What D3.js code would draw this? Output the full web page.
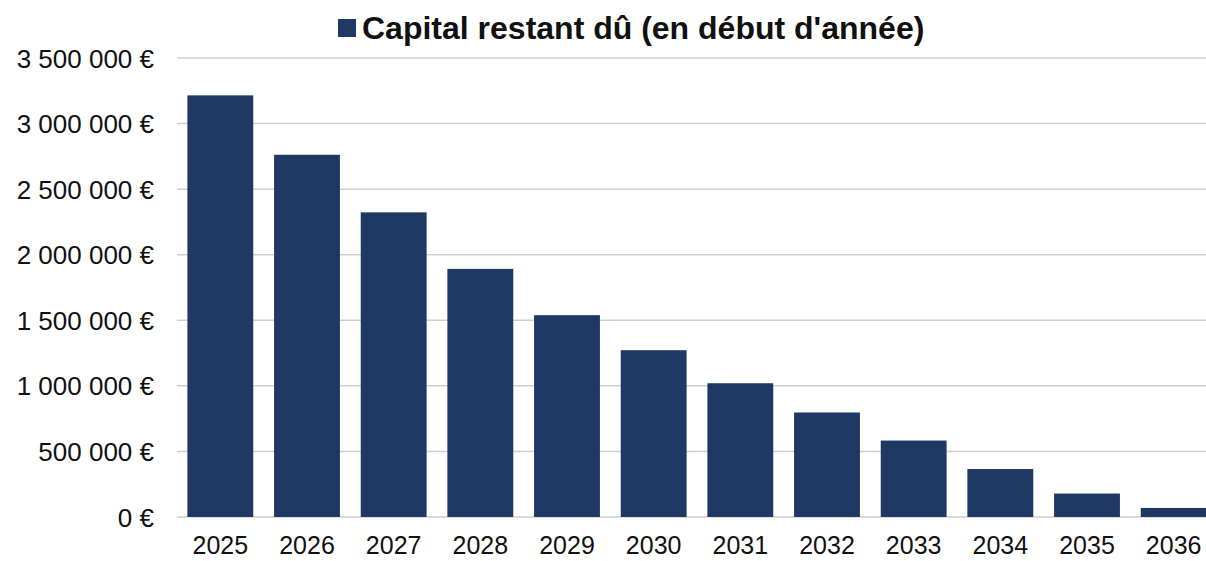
<!DOCTYPE html>
<html lang="fr">
<head>
<meta charset="UTF-8">
<title>Capital restant dû</title>
<style>
    body, html {
        margin: 0;
        padding: 0;
        width: 100%;
        height: 100%;
        overflow: hidden;
        background: #fff;
        font-family: 'Liberation Sans', Arial, sans-serif;
    }
</style>
</head>
<body>
<div id="chart"></div>
<script src="https://d3js.org/d3.v7.min.js"></script>
<script>
    // data
    const years = ["2025", "2026", "2027", "2028", "2029", "2030", "2031", "2032", "2033", "2034", "2035", "2036"];
    const capital = [3215000, 2762000, 2323000, 1892000, 1539000, 1272000, 1020000, 797000, 583000, 366000, 179000, 69000];
    const yTicks = [0, 500000, 1000000, 1500000, 2000000, 2500000, 3000000, 3500000];
    const seriesName = "Capital restant dû (en début d'année)";

    const width = 1206, height = 561;
    const plotLeft = 177, plotRight = 1217, plotTop = 58, plotBottom = 517;
    const barColor = "#1f3864";

    const svg = d3.select("#chart").append("svg")
        .attr("width", width)
        .attr("height", height);

    const x = d3.scaleBand()
        .domain(years)
        .range([plotLeft, plotRight])
        .paddingInner(0.24)
        .paddingOuter(0.12);

    const y = d3.scaleLinear()
        .domain([0, 3500000])
        .range([plotBottom, plotTop]);

    // french style number: 3 500 000 €
    const fmt = v => d3.format(",")(v).replace(/,/g, " ") + " €";

    // gridlines
    svg.append("g")
        .selectAll("line")
        .data(yTicks)
        .join("line")
        .attr("x1", plotLeft)
        .attr("x2", width)
        .attr("y1", d => y(d))
        .attr("y2", d => y(d))
        .attr("stroke", "#cfcfcf")
        .attr("stroke-width", 1.5);

    // y axis labels
    const yAxis = svg.append("g")
        .attr("transform", `translate(${plotLeft - 23},0)`)
        .call(d3.axisLeft(y).tickValues(yTicks).tickFormat(fmt).tickSize(0).tickPadding(0));
    yAxis.select(".domain").remove();
    yAxis.selectAll("text")
        .attr("font-size", 26)
        .attr("font-family", "'Liberation Sans', Arial, sans-serif")
        .attr("fill", "#111")
        .attr("dy", "0.35em");

    // bars
    svg.append("g")
        .selectAll("rect")
        .data(years)
        .join("rect")
        .attr("x", d => x(d))
        .attr("width", x.bandwidth())
        .attr("y", (d, i) => y(capital[i]))
        .attr("height", (d, i) => y(0) - y(capital[i]))
        .attr("fill", barColor);

    // x axis labels
    const xAxis = svg.append("g")
        .attr("transform", `translate(0,${plotBottom})`)
        .call(d3.axisBottom(x).tickSize(0).tickPadding(19));
    xAxis.select(".domain").remove();
    xAxis.selectAll("text")
        .attr("font-size", 25)
        .attr("font-family", "'Liberation Sans', Arial, sans-serif")
        .attr("fill", "#111");

    // legend / title on top
    const legend = svg.append("g").attr("transform", "translate(338,19)");
    legend.append("rect")
        .attr("width", 18)
        .attr("height", 18)
        .attr("fill", barColor);
    legend.append("text")
        .attr("x", 24)
        .attr("y", 20)
        .attr("font-size", 32)
        .attr("font-weight", "bold")
        .attr("font-family", "'Liberation Sans', Arial, sans-serif")
        .attr("fill", "#111")
        .text(seriesName);
</script>
</body>
</html>
